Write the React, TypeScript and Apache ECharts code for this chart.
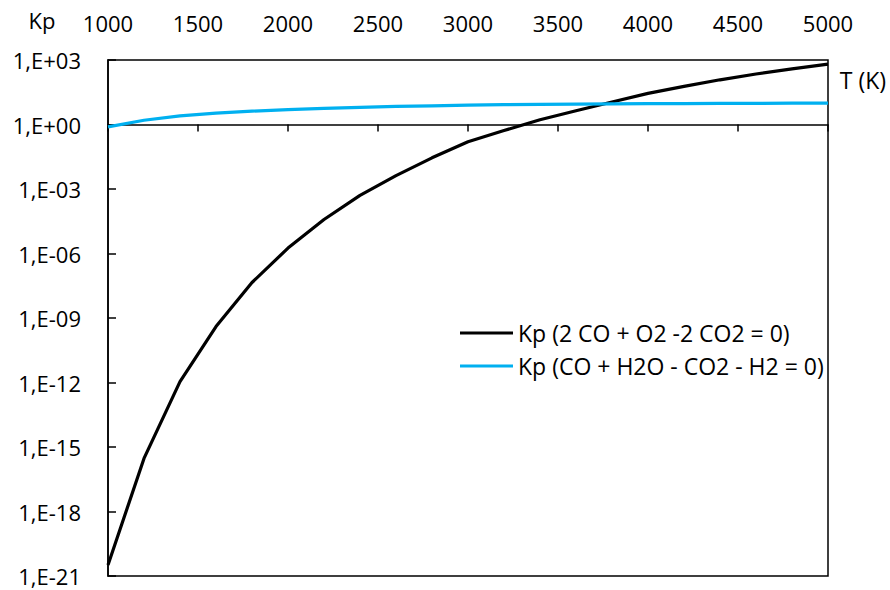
import React, { useEffect, useRef } from "react";
import * as echarts from "echarts";

const FONT = '"Open Sans", sans-serif';

// Temperature (K)
const temperatures = [
  1000, 1200, 1400, 1600, 1800, 2000, 2200, 2400, 2600, 2800, 3000,
  3200, 3400, 3600, 3800, 4000, 4200, 4400, 4600, 4800, 5000,
];

// Kp (2 CO + O2 - 2 CO2 = 0)
const kpCO2 = [
  3.24e-21, 2.95e-16, 1.1e-12, 3.98e-10, 4.47e-8, 1.78e-6, 3.8e-5, 5.01e-4,
  4.17e-3, 2.82e-2, 0.158, 0.525, 1.66, 4.37, 11.2, 28.2, 58.9, 120, 224, 389, 646,
];

// Kp (CO + H2O - CO2 - H2 = 0)
const kpWGS = [
  0.78, 1.58, 2.51, 3.39, 4.17, 4.9, 5.62, 6.31, 6.92, 7.41, 7.94,
  8.32, 8.71, 8.91, 9.12, 9.33, 9.44, 9.55, 9.66, 9.77, 9.8,
];

const seriesNames = ["Kp (2 CO + O2 -2 CO2 = 0)", "Kp (CO + H2O - CO2 - H2 = 0)"];
const seriesColors = ["#000000", "#00B0F0"];

const xMin = 1000;
const xMax = 5000;
const xStep = 500;
// y axis in decades (log10 of Kp)
const yMinExp = -21;
const yMaxExp = 3;
const yStepExp = 3;

function formatExp(e: number): string {
  const r = Math.round(e);
  const sign = r < 0 ? "-" : "+";
  const a = Math.abs(r);
  return "1,E" + sign + (a < 10 ? "0" + a : String(a));
}

export default function App() {
  const ref = useRef<HTMLDivElement>(null);
  useEffect(() => {
    if (!ref.current) return;
    const chart = echarts.init(ref.current, null, { renderer: "svg" });
    const axisLine = { show: true, lineStyle: { color: "#000", width: 1.5 } };
    chart.setOption({
      animation: false,
      backgroundColor: "#fff",
      textStyle: { fontFamily: FONT },
      grid: {
        left: 108,
        right: 62,
        top: 60,
        bottom: 14,
        show: true,
        borderColor: "#000",
        borderWidth: 1.5,
        backgroundColor: "transparent",
      },
      xAxis: {
        type: "value",
        position: "top",
        min: xMin,
        max: xMax,
        interval: xStep,
        axisLine,
        axisTick: { show: true, inside: true, length: 7, lineStyle: { color: "#000", width: 1.5 } },
        axisLabel: {
          color: "#000",
          fontSize: 22,
          fontFamily: FONT,
          margin: 26,
          formatter: (v: number) => String(v),
        },
        splitLine: { show: false },
      },
      yAxis: {
        type: "value",
        min: yMinExp,
        max: yMaxExp,
        interval: yStepExp,
        axisLine,
        axisTick: { show: true, inside: true, length: 8, lineStyle: { color: "#000", width: 1.5 } },
        axisLabel: {
          color: "#000",
          fontSize: 22,
          fontFamily: FONT,
          margin: 27,
          formatter: (v: number) => formatExp(v),
        },
        splitLine: { show: false },
      },
      legend: {
        orient: "vertical",
        left: 460,
        top: 321,
        padding: 0,
        icon: "rect",
        itemWidth: 53,
        itemHeight: 3,
        itemGap: 9,
        textStyle: { fontSize: 23, color: "#000", fontFamily: FONT, lineHeight: 24 },
        data: seriesNames,
      },
      graphic: [
        {
          type: "text",
          style: {
            text: "Kp",
            x: 42,
            y: 20,
            align: "center",
            verticalAlign: "middle",
            fontSize: 22,
            fontFamily: FONT,
            fill: "#000",
          },
        },
        {
          type: "text",
          style: {
            text: "T (K)",
            x: 863,
            y: 80,
            align: "center",
            verticalAlign: "middle",
            fontSize: 23,
            fontFamily: FONT,
            fill: "#000",
          },
        },
      ],
      series: [kpCO2, kpWGS].map((vals, i) => ({
        type: "line",
        name: seriesNames[i],
        data: temperatures.map((t, j) => [t, Math.log10(vals[j])]),
        symbol: "none",
        smooth: false,
        lineStyle: { color: seriesColors[i], width: 3.2 },
        itemStyle: { color: seriesColors[i] },
      })),
    });
    return () => chart.dispose();
  }, []);
  return (
    <div
      ref={ref}
      style={{ position: "fixed", left: 0, top: 0, width: 890, height: 590 }}
    />
  );
}
